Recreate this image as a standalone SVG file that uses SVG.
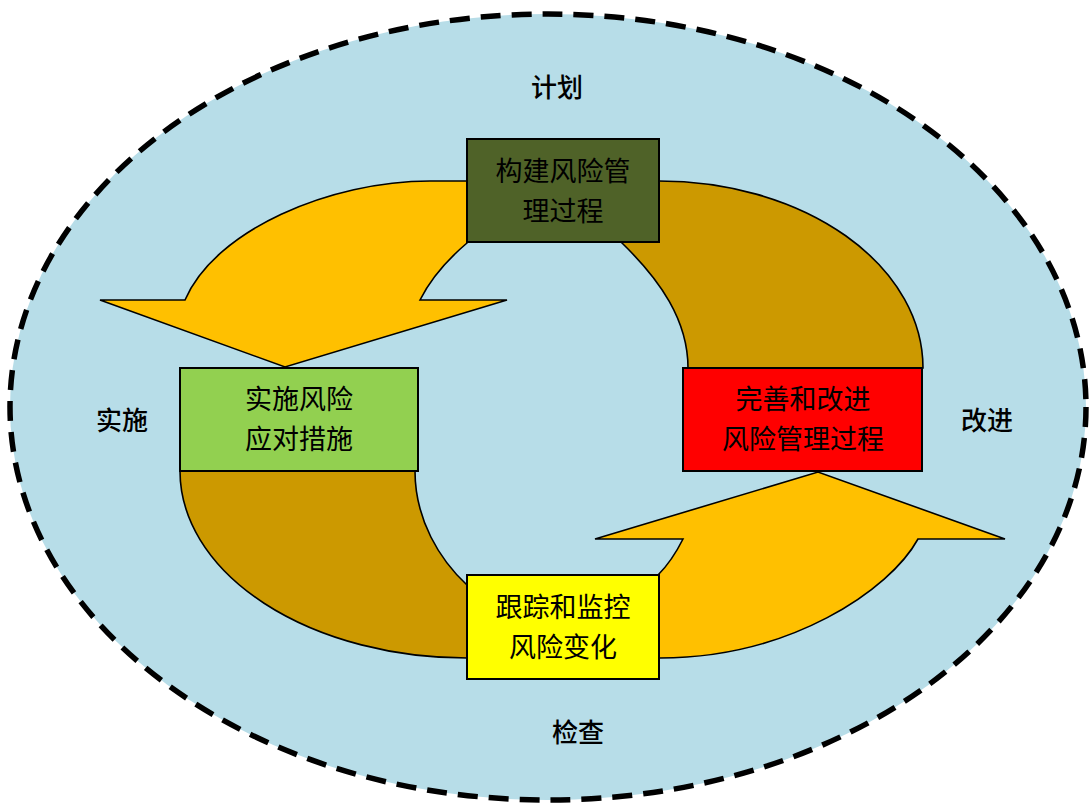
<svg xmlns="http://www.w3.org/2000/svg" width="1089" height="804" viewBox="0 0 1089 804">
<style>
.shape{stroke:#000;stroke-width:1.6;stroke-linejoin:miter}
.yel{fill:#FFC000}
.brn{fill:#CC9900}
.box{stroke:#000;stroke-width:2}
.bt{font-family:"Noto Sans CJK SC","Noto Sans CJK JP",sans-serif;font-size:27px;fill:#000;text-anchor:middle;dominant-baseline:central}
.lbl{font-family:"Noto Sans CJK SC","Noto Sans CJK JP",sans-serif;font-size:26px;fill:#000;text-anchor:middle;dominant-baseline:central;font-weight:500}
</style>
<rect x="0" y="0" width="1089" height="804" fill="#fff"/>
<g id="background">
<ellipse cx="548" cy="407" rx="538" ry="393" fill="#B7DDE8" stroke="#000" stroke-width="5.5" stroke-dasharray="20 11"/>
</g>
<g id="connectors">
<path class="shape yel" d="M480,181 L430,181 C330,181 215,230 185,300 L100,300 L285,367 L507,300 L420,300 C430,280 447,260 467,243 L480,230 Z"/>
<path class="shape brn" d="M640,181 L659,181 A264 187 0 0 1 923,368 L688,368 C688,320 660,280 622,243 L630,230 Z"/>
<path class="shape brn" d="M180,471 A287 187 0 0 0 467,658 L480,650 L480,585 L467,585 C440,560 415,520 415,471 Z"/>
<path class="shape yel" d="M650,650 L660,658 C790,658 890,590 918,539 L1005,539 L818,472 L595,539 L683,539 C675,555 668,565 658,575 L650,585 Z"/>
</g>
<g id="node-plan">
<rect class="box" x="467" y="139" width="192" height="103" fill="#4F6228"/>
<text class="bt" x="563" y="169">构建风险管</text>
<text class="bt" x="563" y="209">理过程</text>
</g>
<g id="node-implement">
<rect class="box" x="180" y="368" width="238" height="103" fill="#92D050"/>
<text class="bt" x="299" y="397">实施风险</text>
<text class="bt" x="299" y="437">应对措施</text>
</g>
<g id="node-improve">
<rect class="box" x="683" y="368" width="239" height="103" fill="#FF0000"/>
<text class="bt" x="803" y="397">完善和改进</text>
<text class="bt" x="803" y="437">风险管理过程</text>
</g>
<g id="node-check">
<rect class="box" x="467" y="575" width="192" height="104" fill="#FFFF00"/>
<text class="bt" x="563" y="605">跟踪和监控</text>
<text class="bt" x="563" y="645">风险变化</text>
</g>
<g id="labels">
<text class="lbl" x="557" y="85">计划</text>
<text class="lbl" x="122" y="418">实施</text>
<text class="lbl" x="987" y="418">改进</text>
<text class="lbl" x="578" y="730">检查</text>
</g>
</svg>
